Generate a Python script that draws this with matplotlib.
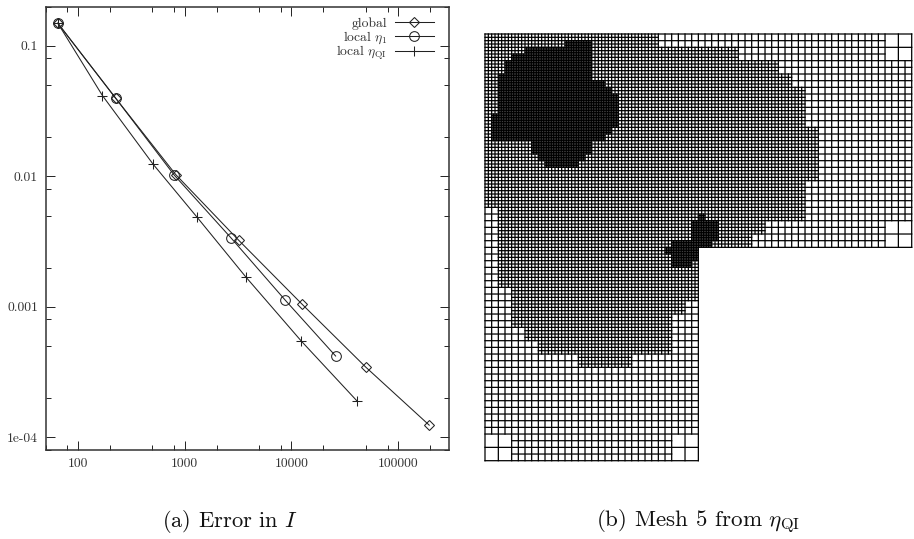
import numpy as np
import matplotlib
matplotlib.use('Agg')
import matplotlib.pyplot as plt

plt.rcParams['font.family'] = 'cmr10'
plt.rcParams['mathtext.fontset'] = 'cm'
plt.rcParams['axes.unicode_minus'] = False
plt.rcParams['axes.formatter.use_mathtext'] = True

# error curves (dofs, error)
global_n = [65, 226, 828, 3206, 12560, 49660, 195800]
global_err = [0.1488, 0.0397, 0.01029, 0.003243, 0.001051, 0.000346, 0.000124]
eta1_n = [65, 226, 799, 2735, 8770, 26000]
eta1_err = [0.1488, 0.0397, 0.01023, 0.00336, 0.001125, 0.00042]
etaqi_n = [65, 170, 508, 1312, 3733, 12390, 41500]
etaqi_err = [0.1488, 0.04156, 0.01236, 0.00485, 0.0017, 0.000547, 0.000189]

x_ticks = [100, 1000, 10000, 100000]
x_labels = ['100', '1000', '10000', '100000']
y_ticks = [1e-4, 1e-3, 1e-2, 1e-1]
y_labels = ['1e-04', '0.001', '0.01', '0.1']

# mesh, in units of the 64x64 base cells: (row start, row stop, col start, col stop)
medium_cells = [
    (0, 2, 0, 26), (2, 4, 0, 38), (4, 6, 0, 44), (6, 8, 0, 46), (8, 14, 0, 48),
    (14, 22, 0, 50), (22, 26, 0, 48), (26, 28, 2, 48), (28, 30, 2, 42), (30, 32, 2, 40),
    (32, 38, 2, 32), (38, 40, 4, 32), (40, 42, 4, 30), (42, 44, 4, 28), (44, 46, 6, 28),
    (46, 48, 8, 28), (48, 50, 14, 22),
]
fine_cells = [
    (1, 2, 12, 16), (2, 3, 6, 16), (3, 4, 4, 16), (4, 6, 3, 16), (6, 7, 2, 16),
    (7, 8, 2, 18), (8, 9, 2, 19), (9, 12, 2, 20), (12, 14, 1, 20), (14, 15, 1, 19),
    (15, 16, 1, 18), (16, 18, 7, 16), (18, 19, 8, 15), (19, 20, 9, 14),
    (27, 28, 32, 33), (28, 31, 31, 35), (31, 32, 28, 34), (32, 33, 27, 32),
    (33, 34, 28, 32), (34, 35, 28, 31),
]
coarse_cells = [(0, 4, 60, 64), (28, 32, 60, 64), (60, 64, 0, 4), (60, 64, 28, 32)]
domain_cells = [(0, 32, 0, 64), (32, 64, 0, 32)]

fig = plt.figure(figsize=(9.14, 5.39), dpi=100)
W, H = 914.0, 539.0

# left panel
ax = fig.add_axes([45.7 / W, 1 - 450 / H, 403.3 / W, 443.5 / H])
ax.set_xscale('log')
ax.set_yscale('log')
ink = '#222222'
l1, = ax.plot(global_n, global_err, color=ink, lw=0.75, marker='D', ms=5.6, mfc='none', mew=0.75)
l2, = ax.plot(eta1_n, eta1_err, color=ink, lw=0.75, marker='o', ms=7.0, mfc='none', mew=0.75)
l3, = ax.plot(etaqi_n, etaqi_err, color=ink, lw=0.75, marker='+', ms=7.4, mew=0.75)
ax.set_xlim(50, 300000)
ax.set_ylim(8e-5, 0.2)

ax.set_xticks(x_ticks)
ax.set_xticklabels(x_labels)
ax.set_yticks(y_ticks)
ax.set_yticklabels(y_labels)
minor = [m * 10.0**e for e in range(-5, 6) for m in (2, 5, 8)]
ax.set_xticks([m for m in minor if 50 <= m <= 300000], minor=True)
ax.set_yticks([m for m in minor if 8e-5 <= m <= 0.2], minor=True)
ax.set_xticklabels([], minor=True)
ax.set_yticklabels([], minor=True)
ax.tick_params(which='major', direction='in', top=True, right=True, length=6.5, width=0.7,
               labelsize=9.8, labelcolor='#333333', color=ink, pad=5.5)
ax.tick_params(which='minor', direction='in', top=True, right=True, length=3.3, width=0.7, color=ink)
for s in ax.spines.values():
    s.set_linewidth(1.1)
    s.set_color('#333333')

# one legend per row so the rows stay evenly spaced
legend_labels = ['global', r'local $\eta_1$', r'local $\eta_{\mathrm{QI}}$']
legend_rows = [0.962, 0.9285, 0.8945]
for line, label, row in zip((l1, l2, l3), legend_labels, legend_rows):
    leg = ax.legend([line], [label], loc='center right', bbox_to_anchor=(0.962, row), frameon=False,
                    markerfirst=False, numpoints=1, fontsize=9.8, handlelength=2.85, handletextpad=0.55,
                    borderpad=0, borderaxespad=0, labelcolor='#333333')
    ax.add_artist(leg)
    ax.legend_ = None

# right panel: mark cell edges on a quarter-cell grid, then join them into runs
mesh = fig.add_axes([485 / W, 1 - 460.7 / H, 426.7 / W, 426.7 / H])
size = np.zeros((256, 256), dtype=int)
for cells, s in ((domain_cells, 4), (medium_cells, 2), (fine_cells, 1), (coarse_cells, 8)):
    for r0, r1, c0, c1 in cells:
        size[r0 * 4:r1 * 4, c0 * 4:c1 * 4] = s

h_edges = np.zeros((257, 256), dtype=bool)
v_edges = np.zeros((256, 257), dtype=bool)
for i in range(256):
    for j in range(256):
        s = size[i, j]
        if s and i % s == 0 and j % s == 0:
            h_edges[i, j:j + s] = True
            h_edges[i + s, j:j + s] = True
            v_edges[i:i + s, j] = True
            v_edges[i:i + s, j + s] = True


def runs(flags):
    d = np.diff(np.concatenate(([0], flags.astype(int), [0])))
    return np.flatnonzero(d == 1), np.flatnonzero(d == -1)


ys, x0s, x1s = [], [], []
for i in range(257):
    a, b = runs(h_edges[i])
    ys += [i / 4] * len(a)
    x0s += list(a / 4)
    x1s += list(b / 4)
xs, y0s, y1s = [], [], []
for j in range(257):
    a, b = runs(v_edges[:, j])
    xs += [j / 4] * len(a)
    y0s += list(a / 4)
    y1s += list(b / 4)

hl = mesh.hlines(ys, x0s, x1s, colors='black', linewidth=0.9, capstyle='projecting', clip_on=False)
vl = mesh.vlines(xs, y0s, y1s, colors='black', linewidth=0.9, capstyle='projecting', clip_on=False)
hl.set_snap(False)
vl.set_snap(False)
mesh.set_xlim(0, 64)
mesh.set_ylim(64, 0)
mesh.axis('off')

fig.text(230 / W, 1 - 527 / H, r'(a) Error in $I$', ha='center', va='baseline', fontsize=16.2, color='#111111')
fig.text(698 / W, 1 - 527 / H, r'(b) Mesh 5 from $\eta_{\mathrm{QI}}$', ha='center', va='baseline', fontsize=16.6, color='#111111')

fig.savefig('out.png', dpi=100)
